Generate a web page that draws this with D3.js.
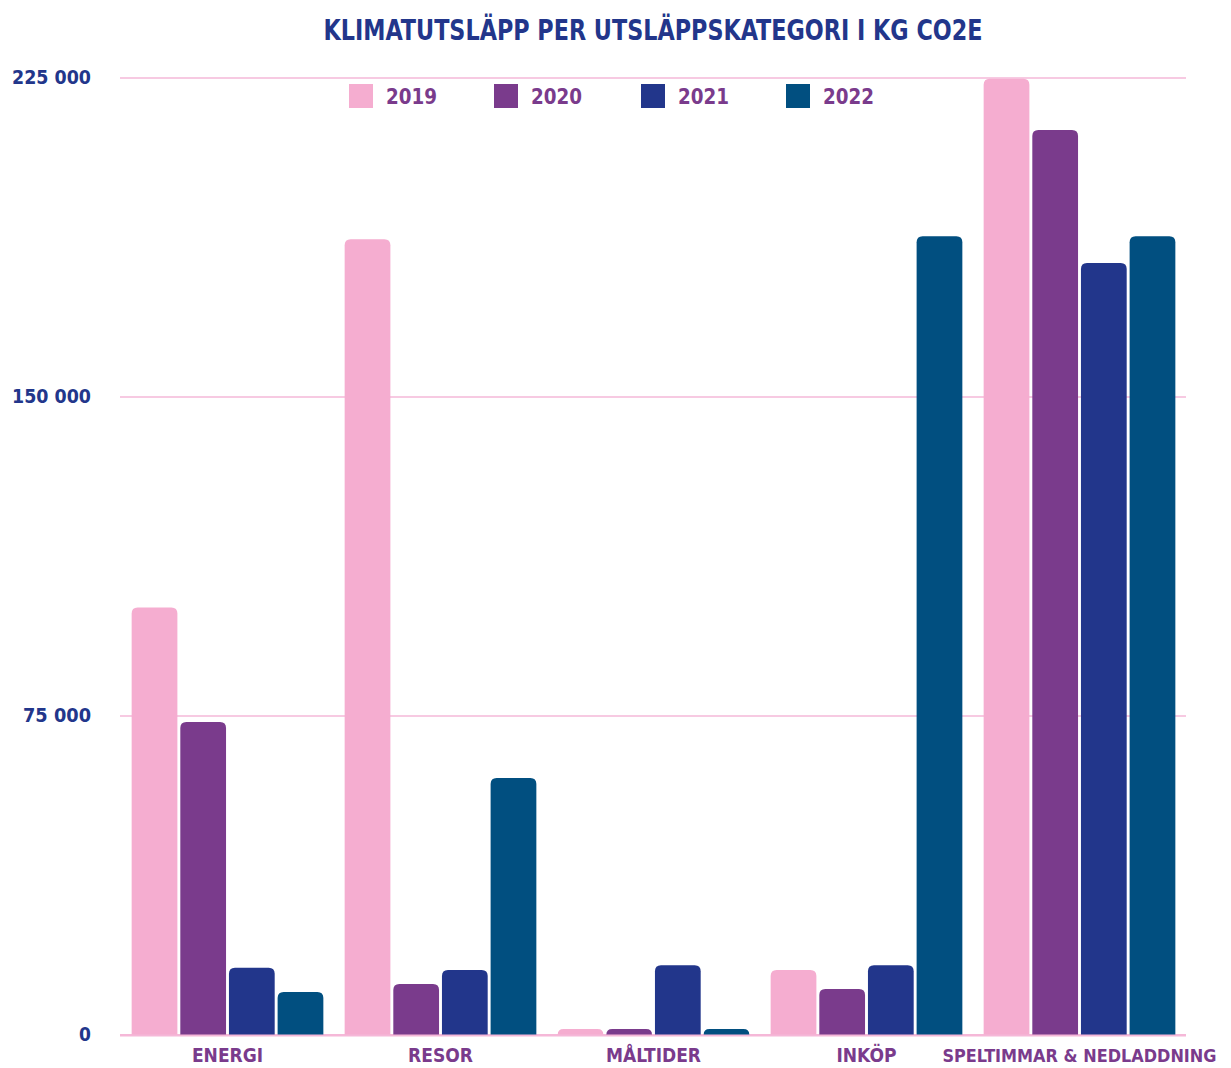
<!DOCTYPE html>
<html><head><meta charset="utf-8">
<script src="https://cdn.jsdelivr.net/npm/d3@7"></script>
<style>body{margin:0;background:#fff;} svg{display:block;}</style>
</head><body>
<svg id="c" width="1231" height="1068"></svg>
<script>
const categories = ["ENERGI","RESOR","MÅLTIDER","INKÖP","SPELTIMMAR & NEDLADDNING"];
const years = ["2019","2020","2021","2022"];
const v2019 = [100500, 187100, 1400, 15300, 224800];
const v2020 = [73600, 12000, 1400, 10800, 212800];
const v2021 = [15800, 15300, 16400, 16400, 181500];
const v2022 = [10100, 60400, 1400, 187800, 187800];
const yTicks = [0, 75000, 150000, 225000];
const colors = ["#F5ADD0","#7A3B8C","#22368B","#014F80"];
const series = [v2019, v2020, v2021, v2022];

const svg = d3.select("#c");
const font = "'DejaVu Sans Condensed','DejaVu Sans',sans-serif";
const x0 = d3.scaleBand().domain(categories).range([121,1186]).paddingInner(0.1).paddingOuter(0.05);
const x1 = d3.scaleBand().domain(years).range([0, x0.bandwidth()]).paddingInner(0.06);
const y = d3.scaleLinear().domain([0,225000]).range([1035,78]);

// y axis labels
const yAxis = d3.axisLeft(y).tickValues(yTicks).tickSize(0).tickFormat(d => d3.format(",")(d).replace(/,/g," "));
const gy = svg.append("g").attr("transform","translate(91,0)").call(yAxis);
gy.select(".domain").remove();
gy.selectAll("text").attr("fill","#22368B").attr("font-family",font).attr("font-weight","bold").attr("font-size",19).attr("x",0).attr("dy","0.3em");
gy.selectAll(".tick text").filter(d=>d!==0).attr("lengthAdjust","spacingAndGlyphs")
  .attr("textLength", d=> d>=100000 ? 79 : 68);

// gridlines
svg.append("g").selectAll("line").data(yTicks).join("line")
  .attr("x1",120).attr("x2",1186).attr("y1",d=>y(d)).attr("y2",d=>y(d))
  .attr("stroke","#F5B8D8").attr("stroke-width",d=>d===0?2:1.3);

// bars with rounded tops
function roundTop(x,yTop,w,h,r){
  r = Math.min(r, h, w/2);
  return `M${x},${yTop+h}V${yTop+r}Q${x},${yTop} ${x+r},${yTop}H${x+w-r}Q${x+w},${yTop} ${x+w},${yTop+r}V${yTop+h}Z`;
}
const groups = svg.append("g").selectAll("g").data(categories).join("g")
  .attr("transform", d=>`translate(${x0(d)},0)`);
groups.selectAll("path").data((c,i)=>series.map((s,k)=>({year:years[k],v:s[i],k}))).join("path")
  .attr("d", d=>roundTop(x1(d.year), y(d.v), x1.bandwidth(), y(0)-y(d.v), 6))
  .attr("fill", d=>colors[d.k]);

// baseline on top
svg.append("line").attr("x1",120).attr("x2",1186).attr("y1",y(0)+0.5).attr("y2",y(0)+0.5).attr("stroke","#F5B8D8").attr("stroke-width",2);

// x labels
const xAxis = d3.axisBottom(x0).tickSize(0);
const gx = svg.append("g").attr("transform",`translate(0,${y(0)})`).call(xAxis);
gx.select(".domain").remove();
gx.selectAll("text").attr("fill","#7A3B8C").attr("font-family",font).attr("font-weight","bold").attr("font-size",19).attr("dy","1.4em").attr("y",0);
gx.selectAll(".tick").filter(d=>d==="SPELTIMMAR & NEDLADDNING").select("text")
  .attr("font-size",17.5).attr("dy","1.52em").attr("textLength",274).attr("lengthAdjust","spacingAndGlyphs");

// title
svg.append("text").attr("x",653).attr("y",40).attr("text-anchor","middle")
  .attr("font-family",font).attr("font-weight","bold").attr("font-size",29).attr("fill","#22368B")
  .attr("textLength",659).attr("lengthAdjust","spacingAndGlyphs")
  .text("KLIMATUTSLÄPP PER UTSLÄPPSKATEGORI I KG CO2E");

// legend
const lx = [349,494,641,786];
const lg = svg.append("g").selectAll("g").data(years).join("g").attr("transform",(d,i)=>`translate(${lx[i]},84)`);
lg.append("rect").attr("width",24).attr("height",24).attr("fill",(d,i)=>colors[i]);
lg.append("text").attr("x",37).attr("y",20).attr("font-family",font).attr("font-weight","bold").attr("font-size",22).attr("fill","#7A3B8C")
  .attr("textLength",51).attr("lengthAdjust","spacingAndGlyphs").text(d=>d);
</script>
</body></html>
